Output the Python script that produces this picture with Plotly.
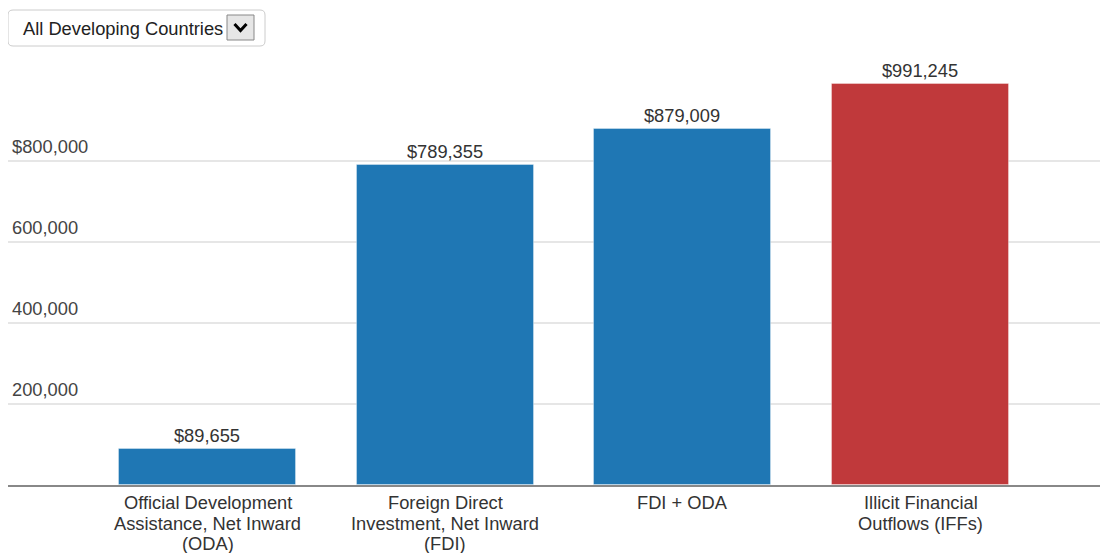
import plotly.graph_objects as go

# ---- data ----
categories = [
    "Official Development Assistance, Net Inward (ODA)",
    "Foreign Direct Investment, Net Inward (FDI)",
    "FDI + ODA",
    "Illicit Financial Outflows (IFFs)",
]
category_lines = [
    ["Official Development", "Assistance, Net Inward", "(ODA)"],
    ["Foreign Direct", "Investment, Net Inward", "(FDI)"],
    ["FDI + ODA"],
    ["Illicit Financial", "Outflows (IFFs)"],
]
values = [89655, 789355, 879009, 991245]
bar_colors = ["#1f77b4", "#1f77b4", "#1f77b4", "#c0393b"]
y_ticks = [200000, 400000, 600000, 800000]
y_tick_labels = ["200,000", "400,000", "600,000", "$800,000"]
dropdown_label = "All Developing Countries"

# ---- layout geometry (page has an 8px body margin) ----
OFF = 8
W, H = 1108, 553
BASE_PAGE_Y = 485      # page y of the baseline
TOP_PAGE_Y = 60        # page y of plot top
LEFT_PAGE_X = 8        # page x of plot left
ML = LEFT_PAGE_X - OFF
MR = 0
MT = TOP_PAGE_Y - OFF
MB = H - (BASE_PAGE_Y - OFF)
PW, PH = W - ML - MR, H - MT - MB
FONT = "Liberation Sans, Arial, sans-serif"
FS = 18.3


def px(x):  # page x -> paper
    return (x - OFF - ML) / PW


def py(y):  # page y -> paper
    return (BASE_PAGE_Y - y) / PH


fig = go.Figure()
fig.add_trace(go.Bar(
    x=categories,
    y=values,
    width=0.745,
    marker=dict(color=bar_colors, line=dict(color="rgba(255,255,255,0.35)", width=1)),
    text=[f"${v:,}" for v in values],
    textposition="outside",
    textfont=dict(family=FONT, size=FS, color="#333333"),
    cliponaxis=False,
    hoverinfo="skip",
))

annotations = []
# category labels (multi-line, tight spacing)
for cat, lines in zip(categories, category_lines):
    for i, line in enumerate(lines):
        annotations.append(dict(
            x=cat, y=0, xref="x", yref="y", text=line, showarrow=False,
            xanchor="center", yanchor="middle", yshift=-17.5 - 20.6 * i,
            font=dict(family=FONT, size=FS, color="#333333"),
        ))
# y tick labels above gridlines
for v, lab in zip(y_ticks, y_tick_labels):
    annotations.append(dict(
        x=0, y=v, xref="paper", yref="y", text=lab, showarrow=False,
        xanchor="left", yanchor="middle", xshift=2, yshift=15,
        font=dict(family=FONT, size=FS, color="#444444"),
    ))
# dropdown text
annotations.append(dict(
    x=px(21), y=py(28), xref="paper", yref="paper", text=dropdown_label,
    showarrow=False, xanchor="left", yanchor="middle",
    font=dict(family=FONT, size=FS, color="#222222"),
))


def rounded_rect(x0, y0, x1, y1, r):
    X0, X1 = px(x0), px(x1)
    Y0, Y1 = py(y0), py(y1)
    rx, ry = r / PW, r / PH
    return (f"M {X0+rx},{Y0} L {X1-rx},{Y0} Q {X1},{Y0} {X1},{Y0-ry} "
            f"L {X1},{Y1+ry} Q {X1},{Y1} {X1-rx},{Y1} L {X0+rx},{Y1} "
            f"Q {X0},{Y1} {X0},{Y1+ry} L {X0},{Y0-ry} Q {X0},{Y0} {X0+rx},{Y0} Z")


shapes = [
    dict(type="path", xref="paper", yref="paper", path=rounded_rect(8, 10, 265, 46, 5),
         line=dict(color="#cccccc", width=1), fillcolor="white", layer="above"),
    dict(type="rect", xref="paper", yref="paper", x0=px(227), x1=px(254), y0=py(40), y1=py(15),
         line=dict(color="#888888", width=1), fillcolor="#e6e6e6", layer="above"),
    dict(type="path", xref="paper", yref="paper",
         path=f"M {px(234.5)},{py(24)} L {px(240.5)},{py(30.5)} L {px(246.5)},{py(24)}",
         line=dict(color="#000000", width=3), layer="above"),
]

# x range: band centres at page x 207.5 ... 920.5 (237.67 px apart)
step = (920.5 - 207.5) / 3
x_lo = -(207.5 - LEFT_PAGE_X) / step
x_hi = x_lo + PW / step
# y range: 200,000 per 81 px
y_hi = PH / 81 * 200000

fig.update_layout(
    width=W, height=H,
    margin=dict(l=ML, r=MR, t=MT, b=MB, pad=0),
    paper_bgcolor="white", plot_bgcolor="white",
    showlegend=False,
    font=dict(family=FONT, size=FS, color="#333333"),
    xaxis=dict(
        range=[x_lo, x_hi], showticklabels=False, showgrid=False,
        showline=True, linecolor="#888888", linewidth=2, ticks="", zeroline=False,
        fixedrange=True,
    ),
    yaxis=dict(
        range=[0, y_hi], tickvals=y_ticks, showticklabels=False,
        showgrid=True, gridcolor="#e6e6e6", gridwidth=2, zeroline=False,
        showline=False, ticks="", fixedrange=True,
    ),
    annotations=annotations,
    shapes=shapes,
    bargap=0,
)

fig.write_html("out.html", config={"displayModeBar": False})
